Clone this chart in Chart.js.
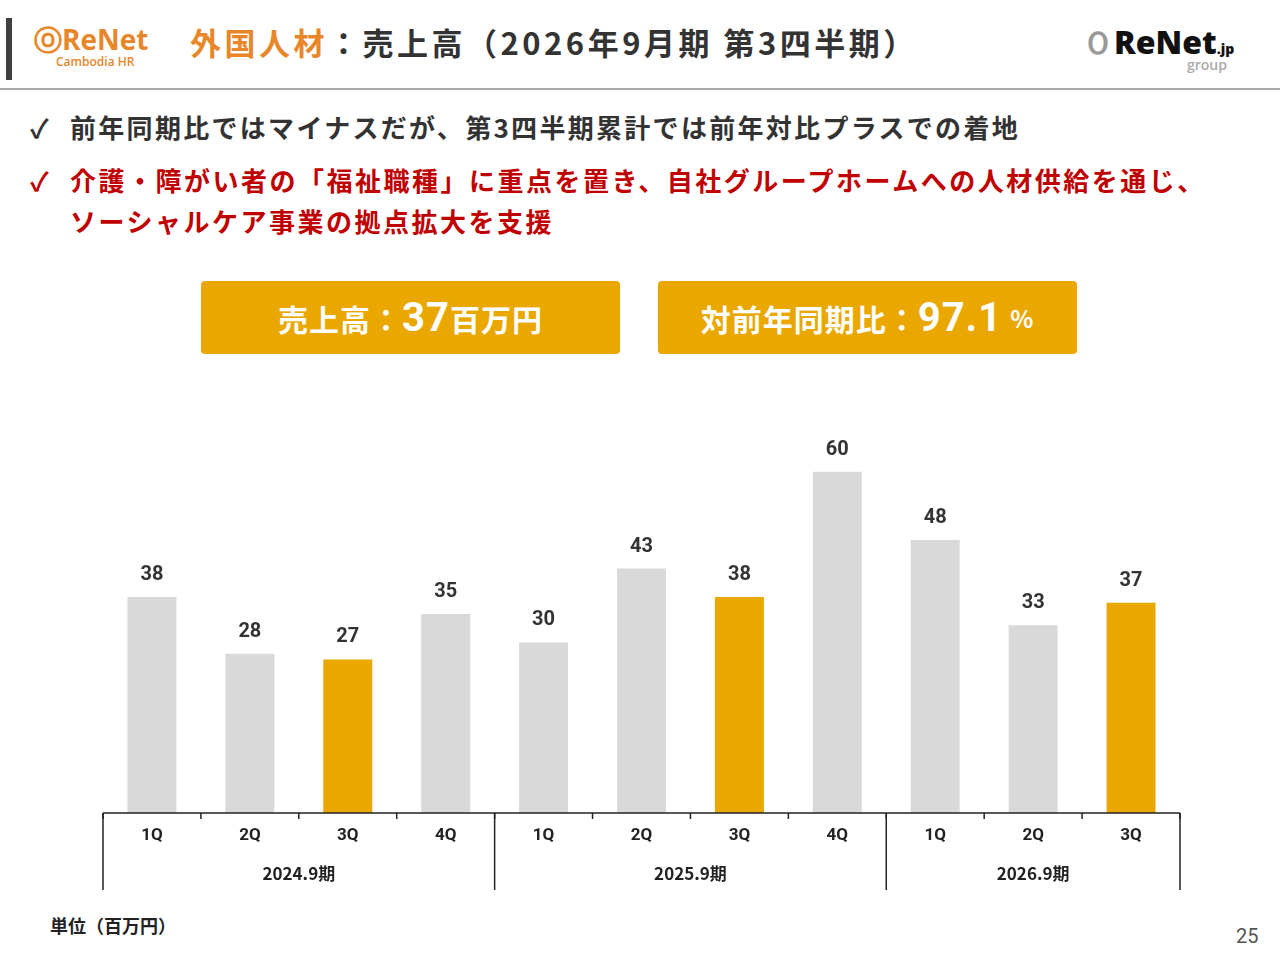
<!DOCTYPE html>
<html><head><meta charset="utf-8">
<script src="https://cdn.jsdelivr.net/npm/chart.js@4"></script>
<style>
body{margin:0;width:1280px;height:960px;background:#fff;font-family:"Noto Sans CJK JP","Noto Sans",sans-serif;position:relative;overflow:hidden}
.a{position:absolute;white-space:nowrap}
.box{position:absolute;background:#E9A700;color:#fff;border-radius:4px;height:73px;top:281px;display:flex;align-items:center;justify-content:center;font-weight:bold;font-size:30px;letter-spacing:1px}
</style></head><body>
<div class="a" style="left:6px;top:18px;width:6px;height:62px;background:#404040"></div>
<div class="a" style="left:34px;top:22px;font-family:'Open Sans';font-weight:bold;font-size:28px;color:#E8862A;line-height:34px">ⓞReNet</div>
<div class="a" style="left:56px;top:53px;font-family:'Open Sans';font-weight:600;font-size:12px;color:#E8862A">Cambodia HR</div>
<div class="a" style="left:190px;top:20px;font-size:31px;font-weight:bold;color:#333;line-height:44px;letter-spacing:3.5px"><span style="color:#E8862A">外国人材</span>：売上高（2026年9月期 第3四半期）</div>
<div class="a" style="left:1082px;top:22px;font-family:'Open Sans';font-weight:800;font-size:32px;color:#111;line-height:40px"><span style="color:#999">Ｏ</span>ReNet<span style="font-size:14px">.jp</span></div>
<div class="a" style="left:1187px;top:55px;font-family:'Open Sans';font-weight:600;font-size:14px;color:#aaa">group</div>
<div class="a" style="left:0;top:88px;width:1280px;height:2px;background:#aaa"></div>
<div class="a" style="left:30px;top:108px;font-size:26px;font-weight:bold;color:#333;line-height:38px;letter-spacing:2.3px"><span style="display:inline-block;width:40px">✓</span>前年同期比ではマイナスだが、第3四半期累計では前年対比プラスでの着地</div>
<div class="a" style="left:30px;top:159px;font-size:26px;font-weight:bold;color:#C00000;line-height:41px;letter-spacing:2.5px"><span style="display:inline-block;width:40px">✓</span>介護・障がい者の「福祉職種」に重点を置き、自社グループホームへの人材供給を通じ、<br><span style="display:inline-block;width:40px"></span>ソーシャルケア事業の拠点拡大を支援</div>
<div class="box" style="left:201px;width:419px">売上高：<span style="font-family:Roboto;font-size:40px">37</span>百万円</div>
<div class="box" style="left:658px;width:419px">対前年同期比：<span style="font-family:Roboto;font-size:40px">97.1</span><span style="font-size:24px;margin-left:8px">%</span></div>
<div class="a" style="left:0;top:380px;width:1280px;height:530px"><canvas id="c"></canvas></div>
<div class="a" style="left:50px;top:912px;font-size:18px;font-weight:bold;color:#222">単位（百万円）</div>
<div class="a" style="left:1236px;top:924px;font-family:Roboto;font-size:20px;color:#555">25</div>
<script>
const quarters=["1Q","2Q","3Q","4Q","1Q","2Q","3Q","4Q","1Q","2Q","3Q"];
const years=["2024.9期","2025.9期","2026.9期"];
const yearSpans=[4,4,3];
const values=[38,28,27,35,30,43,38,60,48,33,37];
const highlight=[false,false,true,false,false,false,true,false,false,false,true];
const deco={id:'deco',afterDatasetsDraw(ch){
 const c=ch.ctx,a=ch.chartArea,n=quarters.length,w=(a.right-a.left)/n;
 c.save();c.strokeStyle='#222';c.lineWidth=1.5;c.fillStyle='#222';c.textAlign='center';
 c.beginPath();c.moveTo(a.left,a.bottom);c.lineTo(a.right,a.bottom);c.stroke();
 const meta=ch.getDatasetMeta(0);
 c.font='bold 20px Roboto';c.fillStyle='#333';c.textBaseline='bottom';
 meta.data.forEach((b,i)=>c.fillText(values[i],b.x,b.y-12));
 c.font='bold 17px Roboto';c.fillStyle='#222';c.textBaseline='middle';
 for(let i=0;i<=n;i++){const px=a.left+i*w;c.beginPath();c.moveTo(px,a.bottom);c.lineTo(px,a.bottom+6);c.stroke();}
 quarters.forEach((q,i)=>c.fillText(q,a.left+(i+.5)*w,a.bottom+23));
 let s=0;c.font='bold 17px "Noto Sans CJK JP"';
 [0,...yearSpans].forEach((sp)=>{s+=sp;const px=a.left+s*w;c.beginPath();c.moveTo(px,a.bottom);c.lineTo(px,a.bottom+77);c.stroke();});
 s=0;yearSpans.forEach((sp,k)=>{c.fillText(years[k],a.left+(s+sp/2)*w,a.bottom+61);s+=sp;});
 c.restore();}};
new Chart(document.getElementById('c'),{type:'bar',
 data:{labels:quarters.map((q,i)=>i),datasets:[{data:values,backgroundColor:highlight.map(h=>h?'#E9A700':'#D9D9D9'),categoryPercentage:1,barPercentage:0.5}]},
 options:{responsive:true,maintainAspectRatio:false,animation:false,
  layout:{padding:{left:103,right:100,top:35,bottom:97}},
  plugins:{legend:{display:false},tooltip:{enabled:false}},
  scales:{x:{display:false},y:{display:false,min:0,max:70}}},
 plugins:[deco]});
</script></body></html>
